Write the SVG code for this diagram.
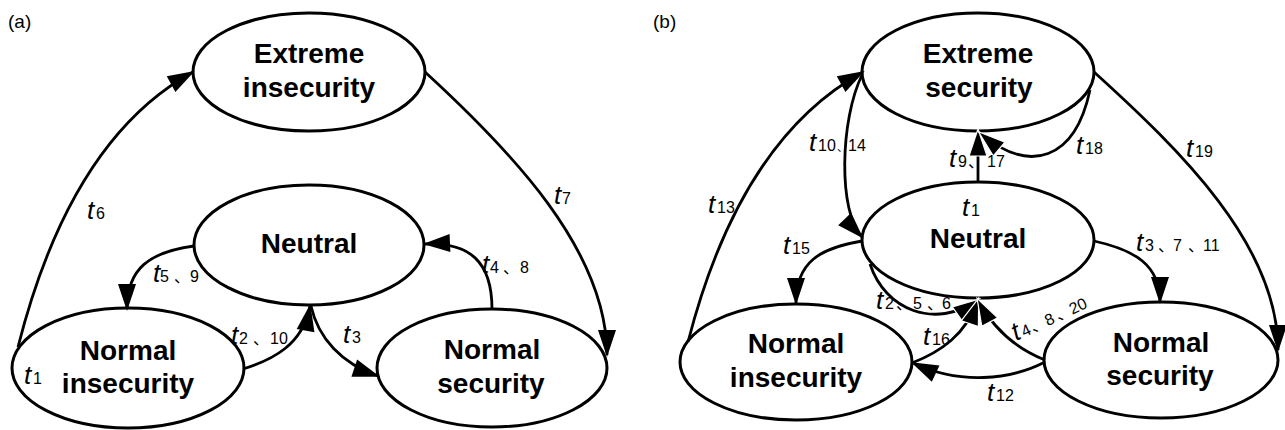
<svg xmlns="http://www.w3.org/2000/svg" width="1285" height="430" viewBox="0 0 1285 430">
<style>
.nd{fill:#fff;stroke:#000;stroke-width:3}
.nt{font-family:"Liberation Sans",Arial,sans-serif;font-weight:bold;font-size:28px;text-anchor:middle;fill:#000}
.cn{fill:none;stroke:#000;stroke-width:2.8}
.lb{font-family:"Liberation Sans","Noto Sans CJK SC",sans-serif;font-size:16px;fill:#000}
.t{font-style:italic;font-size:26px}
.pl{font-family:"Liberation Sans",Arial,sans-serif;font-size:19px;fill:#000}
</style>
<defs>
<marker id="ah" markerWidth="30" markerHeight="20" refX="25" refY="9" orient="auto" markerUnits="userSpaceOnUse" overflow="visible">
<path d="M0,0 L27,9 L0,18 z" fill="#000"/>
</marker>
<marker id="aw" markerWidth="30" markerHeight="20" refX="25" refY="9" orient="auto" markerUnits="userSpaceOnUse" overflow="visible">
<path d="M0,0 L27,9 L0,18 z" fill="#000" stroke="#fff" stroke-width="1.2"/>
</marker>
</defs>
<rect width="1285" height="430" fill="#fff"/>
<text class="pl" x="8" y="28">(a)</text>
<text class="pl" x="653" y="28">(b)</text>

<g id="a_ext"><ellipse class="nd" cx="309" cy="72" rx="116" ry="59"/><text class="nt" x="309" y="63">Extreme</text><text class="nt" x="309" y="97">insecurity</text></g>
<g id="a_neu"><ellipse class="nd" cx="309" cy="245" rx="115" ry="60"/><text class="nt" x="309" y="253">Neutral</text></g>
<g id="a_nins"><ellipse class="nd" cx="128" cy="368" rx="116" ry="60"/><text class="nt" x="128" y="360">Normal</text><text class="nt" x="128" y="393">insecurity</text></g>
<g id="a_nsec"><ellipse class="nd" cx="492" cy="368" rx="115" ry="59"/><text class="nt" x="492" y="359">Normal</text><text class="nt" x="491" y="393">security</text></g>

<g id="b_ext"><ellipse class="nd" cx="978" cy="72" rx="116" ry="59"/><text class="nt" x="978" y="63">Extreme</text><text class="nt" x="979" y="97">security</text></g>
<g id="b_neu"><ellipse class="nd" cx="978" cy="240" rx="116" ry="58"/><text class="nt" x="978" y="248">Neutral</text></g>
<g id="b_nins"><ellipse class="nd" cx="796" cy="362" rx="116" ry="58"/><text class="nt" x="796" y="353">Normal</text><text class="nt" x="796" y="387">insecurity</text></g>
<g id="b_nsec"><ellipse class="nd" cx="1161" cy="360" rx="117" ry="58"/><text class="nt" x="1161" y="352">Normal</text><text class="nt" x="1160" y="385">security</text></g>

<g id="connectors">
<path class="cn" marker-end="url(#ah)" d="M18,347 C53,209 111,117 193,72"/>
<path class="cn" marker-end="url(#ah)" d="M425,72 C510,150 607,250 607,355"/>
<path class="cn" marker-end="url(#ah)" d="M194,246 C150,252 127,268 127,309"/>
<path class="cn" marker-end="url(#ah)" d="M243,369 C272,360 303,345 310,306"/>
<path class="cn" marker-end="url(#ah)" d="M311,306 C318,338 342,364 378,376"/>
<path class="cn" marker-end="url(#ah)" d="M492,309 C492,262 470,242 425,244"/>

<path class="cn" marker-end="url(#ah)" d="M688,342 C723,206 781,117 863,72"/>
<path class="cn" marker-end="url(#ah)" d="M862,75 C840,120 838,212 862,237"/>
<path class="cn" marker-end="url(#aw)" d="M978,182 L978,131"/>
<path class="cn" marker-end="url(#aw)" d="M1090,90 C1075,160 1030,175 980,133"/>
<path class="cn" marker-end="url(#ah)" d="M1094,72 C1180,150 1278,245 1278,350"/>
<path class="cn" marker-end="url(#ah)" d="M862,241 C820,248 796,262 796,303"/>
<path class="cn" marker-end="url(#ah)" d="M1094,241 C1135,250 1160,265 1160,302"/>
<path class="cn" marker-end="url(#aw)" d="M870,264 C885,310 935,330 978,300"/>
<path class="cn" marker-end="url(#aw)" d="M912,363 C940,352 966,335 978,300"/>
<path class="cn" marker-end="url(#aw)" d="M1045,360 C1020,350 995,332 978,300"/>
<path class="cn" marker-end="url(#ah)" d="M1045,362 C1010,380 960,385 913,363"/>
</g>

<g id="labels">
<text class="lb" x="87" y="219"><tspan class="t">t</tspan><tspan x="96">6</tspan></text>
<text class="lb" x="554" y="204"><tspan class="t">t</tspan><tspan x="562">7</tspan></text>
<text class="lb" x="24" y="384"><tspan class="t">t</tspan><tspan x="33">1</tspan></text>
<text class="lb" x="153" y="282"><tspan class="t">t</tspan><tspan x="160">5</tspan><tspan x="174">、</tspan><tspan x="190">9</tspan></text>
<text class="lb" x="231" y="344"><tspan class="t">t</tspan><tspan x="239">2</tspan><tspan x="253">、</tspan><tspan x="270">10</tspan></text>
<text class="lb" x="343" y="343"><tspan class="t">t</tspan><tspan x="352">3</tspan></text>
<text class="lb" x="482" y="273"><tspan class="t">t</tspan><tspan x="490">4</tspan><tspan x="503">、</tspan><tspan x="520">8</tspan></text>

<text class="lb" x="708" y="213"><tspan class="t">t</tspan><tspan x="717">13</tspan></text>
<text class="lb" x="809" y="151"><tspan class="t">t</tspan><tspan x="818">10</tspan><tspan x="837" font-size="11">、</tspan><tspan x="848">14</tspan></text>
<text class="lb" x="949" y="167"><tspan class="t">t</tspan><tspan x="958">9</tspan><tspan x="968">、</tspan><tspan x="987">17</tspan></text>
<text class="lb" x="1076" y="154"><tspan class="t">t</tspan><tspan x="1085">18</tspan></text>
<text class="lb" x="1186" y="157"><tspan class="t">t</tspan><tspan x="1195">19</tspan></text>
<text class="lb" x="962" y="216"><tspan class="t">t</tspan><tspan x="971">1</tspan></text>
<text class="lb" x="783" y="254"><tspan class="t">t</tspan><tspan x="792">15</tspan></text>
<text class="lb" x="1136" y="251"><tspan class="t">t</tspan><tspan x="1145">3</tspan><tspan x="1158">、</tspan><tspan x="1173">7</tspan><tspan x="1188">、</tspan><tspan x="1203">11</tspan></text>
<text class="lb" x="876" y="309"><tspan class="t">t</tspan><tspan x="885">2</tspan><tspan x="896">、</tspan><tspan x="913">5</tspan><tspan x="927">、</tspan><tspan x="942">6</tspan></text>
<text class="lb" x="923" y="345"><tspan class="t">t</tspan><tspan x="932">16</tspan></text>
<text class="lb" x="987" y="401"><tspan class="t">t</tspan><tspan x="996">12</tspan></text>
<text class="lb" x="1016" y="341" transform="rotate(-25 1016 341)"><tspan class="t">t</tspan><tspan x="1025">4</tspan><tspan x="1035">、</tspan><tspan x="1051">8</tspan><tspan x="1063">、</tspan><tspan x="1078">20</tspan></text>
</g>
</svg>
